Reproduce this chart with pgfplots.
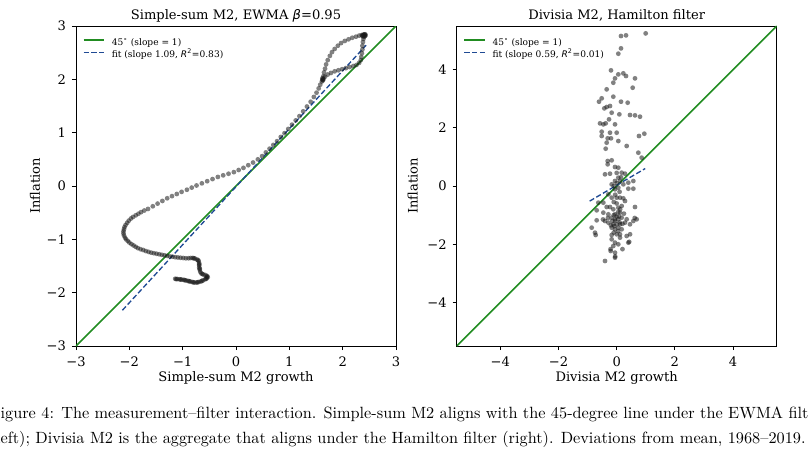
\documentclass[border=0pt]{standalone}
\usepackage{fontspec}
\usepackage{pgfplots}
\pgfplotsset{compat=1.18}
\newfontfamily\djs{DejaVu Serif}
\newfontfamily\djsans{DejaVu Sans}
\newfontfamily\capfont{lmroman10-regular.otf}
\definecolor{lgreen}{rgb}{0.13,0.55,0.13}
\definecolor{fitblue}{rgb}{0.12,0.29,0.58}
\newcommand{\chartfont}{\djs\fontsize{9.8}{11.8}\selectfont}
\newcommand{\legfont}{\djs\fontsize{6.8}{8.2}\selectfont}

\pgfplotstableread{
x y
-1.14 -1.74
-1.10 -1.745
-1.06 -1.75
-1.02 -1.755
-0.98 -1.76
-0.94 -1.77
-0.90 -1.78
-0.86 -1.79
-0.82 -1.80
-0.78 -1.81
-0.74 -1.81
-0.70 -1.80
-0.66 -1.79
-0.62 -1.77
-0.58 -1.75
-0.55 -1.73
-0.53 -1.71
-0.54 -1.69
-0.57 -1.67
-0.61 -1.66
-0.65 -1.64
-0.67 -1.61
-0.68 -1.57
-0.69 -1.53
-0.69 -1.49
-0.69 -1.45
-0.70 -1.41
-0.73 -1.38
-0.77 -1.36
-0.81 -1.35
-0.85 -1.35
-1.12 -1.745
-1.04 -1.752
-0.96 -1.765
-0.88 -1.785
-0.80 -1.805
-0.72 -1.805
-0.64 -1.78
-0.56 -1.74
-0.55 -1.70
-0.63 -1.65
-0.68 -1.55
-0.69 -1.47
-0.71 -1.39
-0.79 -1.355
}\leftdark

\pgfplotstableread{
x y
-0.89 -1.355
-0.94 -1.355
-0.99 -1.35
-1.04 -1.345
-1.09 -1.34
-1.14 -1.335
-1.19 -1.325
-1.24 -1.32
-1.29 -1.31
-1.34 -1.30
-1.39 -1.29
-1.44 -1.28
-1.49 -1.27
-1.54 -1.26
-1.59 -1.25
-1.64 -1.235
-1.69 -1.22
-1.74 -1.20
-1.79 -1.185
-1.84 -1.165
-1.88 -1.14
-1.92 -1.115
-1.96 -1.09
-2.00 -1.06
-2.03 -1.03
-2.06 -1.00
-2.08 -0.97
-2.10 -0.93
-2.11 -0.89
-2.11 -0.85
-2.10 -0.81
-2.09 -0.77
-2.07 -0.73
-2.04 -0.69
-2.01 -0.65
-1.97 -0.61
-1.93 -0.58
-1.88 -0.55
-1.83 -0.52
-1.78 -0.49
-1.72 -0.46
-1.65 -0.43
-1.56 -0.38
-1.47 -0.33
-1.38 -0.28
-1.29 -0.23
-1.20 -0.19
-1.11 -0.15
-1.02 -0.11
-0.92 -0.07
-0.83 -0.03
-0.74 0.01
-0.64 0.05
-0.54 0.09
-0.44 0.13
-0.34 0.17
-0.24 0.20
-0.14 0.23
-0.04 0.26
0.05 0.30
0.14 0.34
0.23 0.39
0.32 0.44
0.41 0.50
0.49 0.56
0.56 0.63
0.63 0.70
0.70 0.77
0.77 0.84
0.84 0.92
0.91 0.99
0.98 1.07
1.05 1.15
1.12 1.23
1.19 1.31
1.26 1.40
1.33 1.49
1.40 1.58
1.46 1.67
1.51 1.75
1.55 1.83
1.58 1.90
1.61 1.96
1.62 1.99
1.63 2.00
1.64 2.01
1.63 1.98
1.62 2.02
1.64 2.06
1.65 2.13
1.67 2.20
1.69 2.28
1.72 2.36
1.76 2.44
1.80 2.51
1.85 2.57
1.91 2.63
1.97 2.68
2.04 2.72
2.11 2.75
2.18 2.78
2.25 2.80
2.31 2.82
2.36 2.83
2.39 2.84
2.41 2.84
2.43 2.83
2.42 2.81
2.40 2.80
2.38 2.81
2.39 2.83
2.41 2.82
2.37 2.82
2.42 2.845
2.39 2.76
2.38 2.70
2.37 2.63
2.37 2.56
2.36 2.49
2.35 2.42
2.34 2.36
2.31 2.31
2.26 2.27
2.20 2.25
2.13 2.23
2.06 2.21
1.99 2.19
1.92 2.17
1.85 2.15
1.78 2.12
1.72 2.09
1.67 2.05
}\leftpath

\pgfplotstableread{
x y
0.149 5.155
0.321 5.178
0.997 5.246
0.149 4.731
0.057 4.548
-0.195 3.975
0.057 3.837
0.229 3.872
0.321 3.780
-0.057 3.700
-0.115 3.551
0.630 3.700
-0.344 3.322
0.550 3.379
-0.515 3.013
-0.607 2.898
-0.115 3.070
0.149 2.898
0.378 2.864
-0.344 2.715
-0.229 2.749
-0.424 2.669
-0.172 2.520
0.092 2.463
0.458 2.440
0.630 2.428
0.802 2.383
-0.263 2.291
-0.573 2.153
-0.458 2.119
-0.378 2.153
-0.057 2.119
-0.515 1.867
-0.229 1.833
0.000 1.833
-0.515 1.718
-0.309 1.638
-0.195 1.638
0.057 1.546
-0.344 1.489
0.951 1.798
0.767 1.718
0.344 1.375
-0.378 1.283
0.745 1.145
0.859 0.974
-0.309 0.859
-0.172 0.882
-0.309 0.745
-0.057 0.653
0.057 0.630
-0.401 0.401
-0.229 0.424
0.172 0.458
0.286 0.424
0.057 0.286
-0.057 0.172
0.115 0.172
0.401 0.115
0.573 0.172
-0.172 0.057
0.229 0.057
-0.057 -0.115
0.057 -0.057
0.401 -0.092
0.573 -0.092
-0.286 -0.286
-0.172 -0.401
0.000 -0.401
0.115 -0.401
0.229 -0.424
0.286 -0.515
-0.630 -0.573
-0.458 -0.573
-0.344 -0.722
-0.229 -0.722
-0.115 -0.802
0.057 -0.745
0.172 -0.687
0.630 -0.722
-0.687 -0.836
-0.458 -0.916
-0.286 -0.974
-0.057 -0.974
0.115 -0.916
-0.172 -1.088
-0.057 -1.145
0.057 -1.145
0.172 -1.088
0.344 -1.145
0.573 -1.203
0.687 -1.145
-0.687 -1.180
-0.401 -1.203
-0.286 -1.260
-0.115 -1.317
0.000 -1.317
0.115 -1.317
0.286 -1.260
0.458 -1.317
-0.172 -1.432
-0.057 -1.489
0.057 -1.432
0.172 -1.489
-0.859 -1.432
-0.745 -1.604
-0.722 -1.684
-0.172 -1.684
0.000 -1.661
0.115 -1.661
0.344 -1.718
-0.172 -1.833
0.115 -1.775
-0.057 -1.947
0.057 -2.005
-0.115 -2.062
0.401 -1.947
-0.206 -2.234
-0.057 -2.291
-0.401 -2.577
-0.057 -2.463
0.43 -1.92
0.20 -2.17
-0.21 -2.17
-0.05 -2.42
0.46 -1.66
0.62 -1.10
-0.47 -1.15
-0.10 -1.00
0.00 -1.05
-0.05 -1.20
0.10 -1.25
-0.15 -1.20
0.05 -0.90
0.20 -1.30
-0.20 -1.35
0.00 -0.60
-0.10 -0.55
0.10 -0.20
-0.10 0.00
0.00 0.10
0.15 0.30
-0.05 -0.30
0.05 -1.55
-0.10 -1.60
0.25 -0.95
-0.30 -1.10
0.00 0.45
0.08 -1.05
-0.08 -1.38
0.12 -0.80
}\rightpts

\pgfplotsset{
  panel/.style={
    scale only axis, width=240pt, height=240pt,
    axis line style={line width=0.6pt, black},
    tick align=outside, major tick length=3pt,
    tick style={line width=0.6pt, black},
    xtick pos=bottom, ytick pos=left,
    tick label style={font=\chartfont},
    xticklabel style={anchor=base, inner sep=0pt, yshift=-12.5pt},
    yticklabel style={anchor=east, inner sep=0pt, xshift=-4.3pt},
    every axis title shift=0pt,
    title style={font=\chartfont, at={(axis description cs:0.5,1)}, anchor=base, yshift=5pt, inner sep=0pt},
    xlabel style={font=\chartfont, at={(axis description cs:0.5,0)}, anchor=base, yshift=-26.8pt, inner sep=0pt},
    ylabel style={font=\chartfont, anchor=center, inner sep=0pt},
    legend style={draw=none, fill=none, font=\legfont, at={(axis description cs:0,1)},
      anchor=north west, xshift=5pt, yshift=-9.2pt, inner sep=0pt, row sep=2.6pt, column sep=5pt,
      nodes={inner sep=0pt, text height=5.2pt, text depth=1.5pt}},
    legend cell align=left,
    legend image code/.code={\draw[##1] (0pt,2.2pt) -- (15.5pt,2.2pt);},
  },
  dots/.style={only marks, mark=*, mark size=1.8pt,
    mark options={draw opacity=0, fill=black!90, fill opacity=0.55}},
  diag/.style={lgreen, line width=1.2pt},
  fitl/.style={fitblue, line width=1pt, dash pattern=on 3.9pt off 1.9pt},
}

\begin{document}
\begin{tikzpicture}
\path[use as bounding box] (0,0) rectangle (606pt,341.25pt);

\begin{axis}[panel, at={(57pt,81.75pt)}, anchor=south west,
  xmin=-3, xmax=3, ymin=-3, ymax=3,
  xtick={-3,-2,-1,0,1,2,3}, xticklabels={−3,−2,−1,0,1,2,3},
  ytick={-3,-2,-1,0,1,2,3}, yticklabels={−3,−2,−1,0,1,2,3},
  title={Simple-sum M2, EWMA {\djsans\itshape β}=0.95},
  xlabel={Simple-sum M2 growth}, ylabel={Inflation},
  ylabel style={at={(axis description cs:-0.128,0.5)}},
]
\addplot[dots, forget plot] table {\leftpath};
\addplot[dots, forget plot] table {\leftdark};
\addplot[diag] coordinates {(-3,-3) (3,3)};
\addlegendentry{45\textsuperscript{\djsans ∘} (slope = 1)}
\addplot[fitl] coordinates {(-2.13,-2.33) (2.44,2.64)};
\addlegendentry{fit (slope 1.09, {\djsans\itshape R}\textsuperscript{\djsans 2}=0.83)}
\end{axis}

\begin{axis}[panel, at={(342.5pt,81.75pt)}, anchor=south west,
  xmin=-5.5, xmax=5.5, ymin=-5.5, ymax=5.5,
  xtick={-4,-2,0,2,4}, xticklabels={−4,−2,0,2,4},
  ytick={-4,-2,0,2,4}, yticklabels={−4,−2,0,2,4},
  title={Divisia M2, Hamilton filter},
  xlabel={Divisia M2 growth}, ylabel={Inflation},
  ylabel style={at={(axis description cs:-0.137,0.5)}},
]
\addplot[dots, forget plot] table {\rightpts};
\addplot[diag] coordinates {(-5.5,-5.5) (5.5,5.5)};
\addlegendentry{45\textsuperscript{\djsans ∘} (slope = 1)}
\addplot[fitl] coordinates {(-0.93,-0.52) (0.98,0.60)};
\addlegendentry{fit (slope 0.59, {\djsans\itshape R}\textsuperscript{\djsans 2}=0.01)}
\end{axis}

\node[anchor=base west, inner sep=0pt, font=\capfont\fontsize{12.2}{14}\selectfont] at (0.3pt,27.75pt)
  {\llap{F}igure 4: The measurement–filter interaction. Simple-sum M2 aligns with the 45-degree line under the EWMA filter};
\node[anchor=base west, inner sep=0pt, font=\capfont\fontsize{12.2}{14}\selectfont] at (0.3pt,9pt)
  {\llap{(l}eft); Divisia M2 is the aggregate that aligns under the Hamilton filter (right). Deviations from mean, 1968–2019.};
\end{tikzpicture}
\end{document}
